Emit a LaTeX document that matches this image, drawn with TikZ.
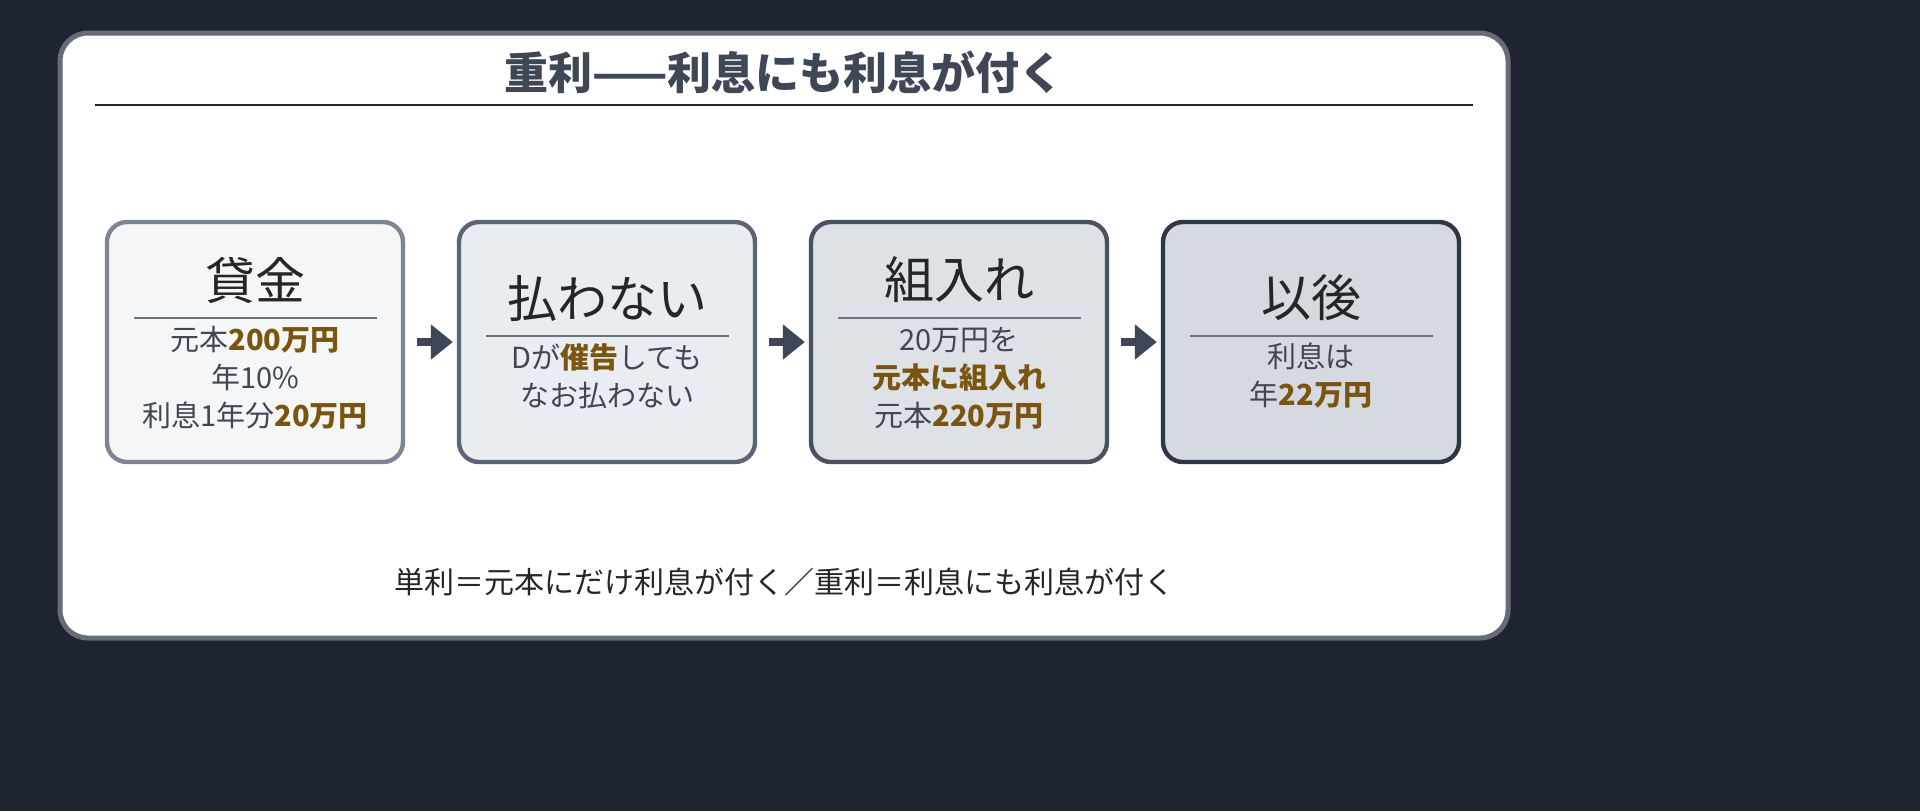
\documentclass[tikz,border=0pt]{standalone}
\usepackage{fontspec}
\setmainfont{Noto Sans CJK JP}
\usetikzlibrary{arrows.meta}
\definecolor{bg}{HTML}{1E2530}
\definecolor{txt}{HTML}{3F4756}
\definecolor{gold}{HTML}{7A5510}
\definecolor{divc}{HTML}{6B7382}
\definecolor{arrc}{HTML}{3F4756}
\definecolor{f1}{HTML}{F5F6F8}\definecolor{d1}{HTML}{7D8594}
\definecolor{f2}{HTML}{E9ECF0}\definecolor{d2}{HTML}{5C6575}
\definecolor{f3}{HTML}{DEE1E6}\definecolor{d3}{HTML}{4A5262}
\definecolor{f4}{HTML}{D5D9E0}\definecolor{d4}{HTML}{2F3746}
\begin{document}
\begin{tikzpicture}[x=0.5pt,y=-0.5pt,
  box/.style={draw,line width=2.2pt,rounded corners=10pt,minimum width=148pt,minimum height=120pt,inner sep=0},
  head/.style={font=\fontsize{25}{28}\selectfont,text=black!85},
  body/.style={font=\fontsize{14.5}{19}\selectfont,text=txt,align=center},
  div/.style={draw=divc,line width=1pt},
  arr/.style={draw=arrc,line width=4pt,-{Triangle[length=11pt,width=17pt]}}]
\useasboundingbox (0,0) rectangle (1920,811);
\fill[bg] (0,0) rectangle (1920,811);
\draw[fill=white,draw=txt!80,line width=2.5pt,rounded corners=14pt] (60,33) rectangle (1508,638);
\node[font=\fontsize{22}{26}\selectfont\bfseries,text=txt] (title) at (784,72) {重利——利息にも利息が付く};
\coordinate (l1) at (95,105); \coordinate (l2) at (1473,105);
\draw[line width=1.2pt,draw=bg] (l1) -- (l2);
\node[box,fill=f1,draw=d1] (b1) at (255,342) {};
\node[box,fill=f2,draw=d2] (b2) at (607,342) {};
\node[box,fill=f3,draw=d3] (b3) at (959,342) {};
\node[box,fill=f4,draw=d4] (b4) at (1311,342) {};
\node[head] (h1) at (255,280) {貸金};
\draw[div] (134,318) -- (377,318);
\node[body] (t1) at (255,378) {元本\textcolor{gold}{\bfseries 200万円}\\年10\%\\利息1年分\textcolor{gold}{\bfseries 20万円}};
\node[head] (h2) at (607,298) {払わない};
\draw[div] (486,336) -- (729,336);
\node[body] (t2) at (607,376) {Dが\textcolor{gold}{\bfseries 催告}しても\\なお払わない};
\node[head] (h3) at (959,280) {組入れ};
\draw[div] (838,318) -- (1081,318);
\node[body] (t3) at (959,378) {20万円を\\\textcolor{gold}{\bfseries 元本に組入れ}\\元本\textcolor{gold}{\bfseries 220万円}};
\node[head] (h4) at (1311,298) {以後};
\draw[div] (1190,336) -- (1433,336);
\node[body] (t4) at (1311,376) {利息は\\年\textcolor{gold}{\bfseries 22万円}};
\draw[arr] ([xshift=6pt]b1.east) -- ([xshift=-2pt]b2.west);
\draw[arr] ([xshift=6pt]b2.east) -- ([xshift=-2pt]b3.west);
\draw[arr] ([xshift=6pt]b3.east) -- ([xshift=-2pt]b4.west);
\node[font=\fontsize{15}{19}\selectfont,text=black!85] (foot) at (784,582) {単利＝元本にだけ利息が付く／重利＝利息にも利息が付く};
\end{tikzpicture}
\end{document}
